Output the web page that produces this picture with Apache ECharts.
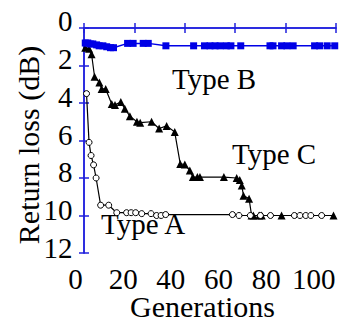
<!DOCTYPE html>
<html>
<head>
<meta charset="utf-8">
<script src="https://cdn.jsdelivr.net/npm/echarts@6/dist/echarts.min.js"></script>
<style>
  html, body { margin: 0; padding: 0; background: #fff; }
  #chart { width: 349px; height: 322px; }
</style>
</head>
<body>
<div id="chart"></div>
<script>
// generations vs return loss (dB)
const typeA = [
  [1, 3.5], [2, 6.1], [2.8, 6.8], [3.8, 7.3], [4.8, 8.0], [6.6, 9.45], [9.8, 9.45],
  [13, 9.85], [16.9, 9.85], [18.7, 9.85], [20.5, 9.85], [22.9, 9.9], [26.6, 9.9],
  [28.8, 10.0], [30.6, 10.0], [32.4, 9.95], [58.9, 9.95], [61.5, 10.0], [66, 10.0],
  [70, 10.0], [74, 10.0], [83.5, 10.0], [85.7, 10.0], [88, 10.0], [90, 10.0], [94.3, 10.0]
];
const typeB = [
  [0.5, 0.8], [1.5, 0.8], [2.5, 0.85], [3.5, 0.85], [5, 0.9], [6, 0.95], [7.5, 0.95],
  [9, 1.0], [10.5, 1.05], [11.7, 1.05], [17.3, 0.82], [19.5, 0.82], [23.5, 0.82],
  [25.5, 0.82], [32.5, 0.95], [43.5, 0.95], [47.8, 0.95], [50, 0.95], [52, 0.95],
  [54, 0.95], [56.5, 0.95], [58.3, 0.95], [62.2, 0.95], [73.8, 0.95], [75, 0.95],
  [78.4, 0.95], [80.5, 0.95], [83, 0.95], [91.5, 0.95], [93.5, 0.95], [96.5, 0.95],
  [99.5, 0.95]
];
const typeC = [
  [0.5, 1.05], [2, 1.1], [3, 1.4], [4.2, 2.6], [6.1, 2.9], [7, 3.25], [8.6, 3.25],
  [11, 4.05], [12.3, 4.1], [14.6, 3.95], [16.2, 4.3], [18.2, 4.7], [21, 5.0],
  [22.3, 5.05], [26.8, 5.0], [29.8, 5.36], [32.8, 5.22], [36, 5.55], [38.2, 7.25],
  [40, 7.28], [42, 7.6], [43.2, 7.95], [45, 7.95], [46, 7.95], [55.5, 7.95],
  [60.6, 8.0], [61.8, 8.1], [62.6, 8.4], [63.3, 8.95], [65.5, 9.1], [66.5, 10.0],
  [67.2, 10.0], [69.5, 10.0], [70.5, 10.0], [78.4, 10.0], [99, 10.0]
];
const xRange = [0, 100, 20];
const yRange = [0, 12, 2];
const seriesNames = ["Type A", "Type B", "Type C"];

const FONT = "Liberation Serif";
const AXIS_BLUE = "#2020dd";

const frameAxis = (extra) => ({
  type: "value",
  gridIndex: 0,
  axisLine: { show: true, lineStyle: { color: AXIS_BLUE, width: 1.5 } },
  axisTick: { show: true, inside: true, length: 5, lineStyle: { color: AXIS_BLUE, width: 1.5 } },
  axisLabel: { show: false },
  splitLine: { show: false },
  ...extra,
});

const labelAxis = (extra) => ({
  type: "value",
  gridIndex: 1,
  axisLine: { show: false },
  axisTick: { show: false },
  splitLine: { show: false },
  ...extra,
});

const tickLabel = (margin) => ({
  margin, color: "#000", fontSize: 29, fontFamily: FONT,
});

const textEl = (x, y, text, size, align, rotation) => ({
  type: "text", x, y, rotation: rotation || 0,
  style: {
    text, fontSize: size, fontFamily: FONT, fill: "#000",
    align, textAlign: align, verticalAlign: "middle", textVerticalAlign: "middle",
  },
});

const chart = echarts.init(document.getElementById("chart"), null, { renderer: "svg" });

const option = {
  animation: false,
  backgroundColor: "#fff",
  textStyle: { fontFamily: FONT },
  grid: [
    { left: 84, right: 13, top: 28, bottom: 69 },
    // labels in the picture sit a bit off the ticks, so they get their own grid
    { left: 75.5, width: 238.3, top: 21.3, height: 226.5 },
  ],
  xAxis: [
    frameAxis({ position: "bottom", min: xRange[0], max: xRange[1], interval: xRange[2] }),
    frameAxis({ position: "top", min: xRange[0], max: xRange[1], interval: xRange[2] }),
    labelAxis({
      position: "bottom", min: xRange[0], max: xRange[1], interval: xRange[2],
      axisLabel: tickLabel(17),
    }),
  ],
  yAxis: [
    frameAxis({ position: "left", inverse: true, min: yRange[0], max: yRange[1], interval: yRange[2] }),
    frameAxis({ position: "right", inverse: true, min: yRange[0], max: yRange[1], interval: yRange[2] }),
    labelAxis({
      position: "left", inverse: true, min: yRange[0], max: yRange[1], interval: yRange[2],
      axisLabel: tickLabel(3),
    }),
  ],
  series: [
    {
      name: seriesNames[2], type: "line", data: typeC,
      symbol: "triangle", symbolSize: 8,
      lineStyle: { color: "#000", width: 1.2 },
      itemStyle: { color: "#000" },
    },
    {
      name: seriesNames[1], type: "line", data: typeB,
      symbol: "rect", symbolSize: 7,
      lineStyle: { color: "#0000e6", width: 1.5 },
      itemStyle: { color: "#0000e6" },
    },
    {
      name: seriesNames[0], type: "line", data: typeA,
      symbol: "circle", symbolSize: 6,
      lineStyle: { color: "#000", width: 1.2 },
      itemStyle: { color: "#fff", borderColor: "#000", borderWidth: 1 },
    },
  ],
  graphic: [
    textEl(172, 79, seriesNames[1], 29, "left"),
    textEl(232, 154, seriesNames[2], 29, "left"),
    textEl(101, 224, seriesNames[0], 29, "left"),
    textEl(202.5, 306, "Generations", 30, "center"),
    textEl(28, 145, "Return loss (dB)", 30, "center", Math.PI / 2),
  ],
};

chart.setOption(option);
</script>
</body>
</html>
